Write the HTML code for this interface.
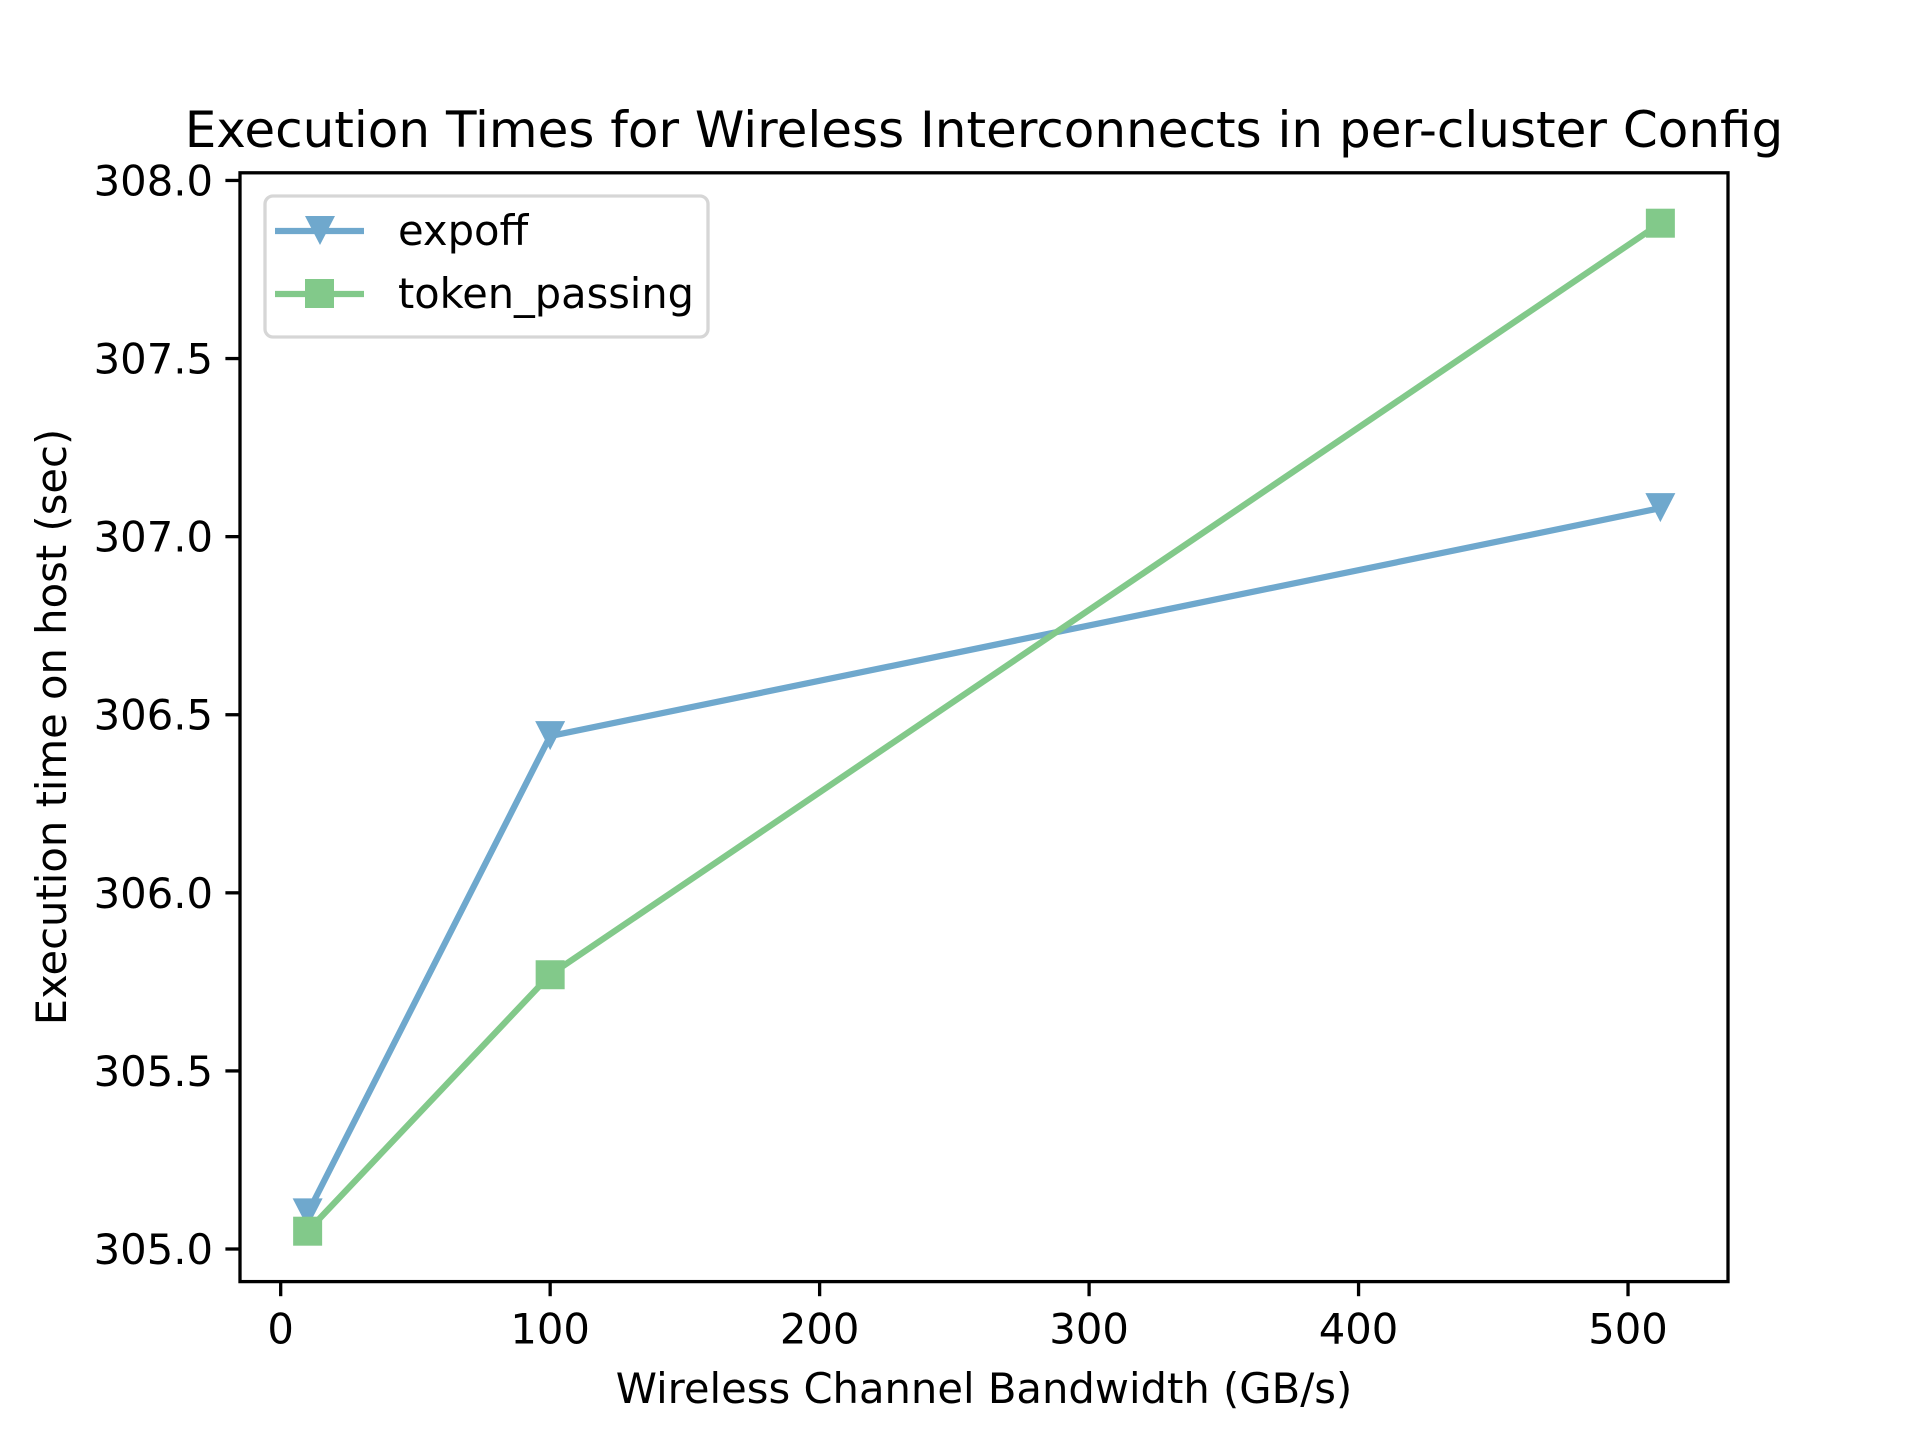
<!DOCTYPE html>
<html><head><meta charset="utf-8"><style>
html,body{margin:0;padding:0;background:#fff;}
svg{display:block;font-family:"DejaVu Sans","Liberation Sans",sans-serif;}
</style></head><body>
<svg id="chart" width="1920" height="1440" viewBox="0 0 1920 1440" xmlns="http://www.w3.org/2000/svg">
<rect width="1920" height="1440" fill="#fff"/>
<text x="984" y="147" font-size="50" text-anchor="middle">Execution Times for Wireless Interconnects in per-cluster Config</text>
<g id="marks"></g>
<rect x="240" y="172.8" width="1488" height="1108.8" fill="none" stroke="#000" stroke-width="3.3"/>
<g id="xticks"></g><g id="yticks"></g>
<text x="984" y="1403" font-size="41.7" text-anchor="middle">Wireless Channel Bandwidth (GB/s)</text>
<text transform="translate(66,727) rotate(-90)" font-size="41.7" text-anchor="middle">Execution time on host (sec)</text>
<g>
<rect x="265" y="196" width="443" height="141" rx="8" fill="#fff" fill-opacity="0.8" stroke="#d6d6d6" stroke-width="3.3"/>
<line x1="275" y1="231" x2="364" y2="231" stroke="#6fa8cd" stroke-width="6.25"/>
<path d="M305,216 L335,216 L320,245 Z" fill="#6fa8cd"/>
<text x="398" y="245" font-size="41.7">expoff</text>
<line x1="275" y1="294" x2="364" y2="294" stroke="#82c98a" stroke-width="6.25"/>
<rect x="305" y="279" width="29" height="29" fill="#82c98a"/>
<text x="398" y="308" font-size="41.7" textLength="296" lengthAdjust="spacingAndGlyphs">token_passing</text>
</g>
</svg>
<script>
const xValues=[10,100,512];
const expoffValues=[305.10,306.44,307.08];
const tokenValues=[305.05,305.77,307.88];
const xTickLabels=[0,100,200,300,400,500];
const yTickLabels=[305.0,305.5,306.0,306.5,307.0,307.5,308.0];
const NS="http://www.w3.org/2000/svg";
const L=240,R=1728,T=172.8,B=1281.6;
const xmin=-15.1,xmax=537.1,ymin=304.9085,ymax=308.0215;
function X(v){return L+(v-xmin)/(xmax-xmin)*(R-L);}
function Y(v){return B-(v-ymin)/(ymax-ymin)*(B-T);}
function mk(t,a){const e=document.createElementNS(NS,t);for(const k in a)e.setAttribute(k,a[k]);return e;}
const marks=document.getElementById('marks');
function series(vals,color,name,marker){
 const pts=xValues.map((x,i)=>X(x)+','+Y(vals[i])).join(' ');
 const pl=mk('polyline',{points:pts,fill:'none',stroke:color,'stroke-width':6.25,'stroke-linejoin':'round'});
 
 
 marks.appendChild(pl);
 xValues.forEach((x,i)=>{
  const cx=X(x),cy=Y(vals[i]);let m;
  if(marker==='tri'){m=mk('path',{d:`M${cx-15},${cy-15} L${cx+15},${cy-15} L${cx},${cy+14} Z`,fill:color});}
  else{m=mk('rect',{x:cx-14.5,y:cy-14.5,width:29,height:29,fill:color});}
  
  
  marks.appendChild(m);
 });
}
series(expoffValues,'#6fa8cd','expoff','tri');
series(tokenValues,'#82c98a','token-passing','sq');
const xt=document.getElementById('xticks');
xTickLabels.forEach(v=>{
 const x=X(v);
 const l=mk('line',{x1:x,y1:B,x2:x,y2:B+14.6,stroke:'#000','stroke-width':3.3});
 
 
 xt.appendChild(l);
 const t=mk('text',{x:x,y:B+62,'font-size':41.7,'text-anchor':'middle'});
 t.textContent=v;
 
 
 xt.appendChild(t);
});
const yt=document.getElementById('yticks');
yTickLabels.forEach(v=>{
 const y=Y(v);
 const l=mk('line',{x1:L-14.6,y1:y,x2:L,y2:y,stroke:'#000','stroke-width':3.3});
 
 
 yt.appendChild(l);
 const t=mk('text',{x:L-27,y:y+15,'font-size':41.7,'text-anchor':'end'});
 t.textContent=v.toFixed(1);
 
 
 yt.appendChild(t);
});
</script>
</body></html>
